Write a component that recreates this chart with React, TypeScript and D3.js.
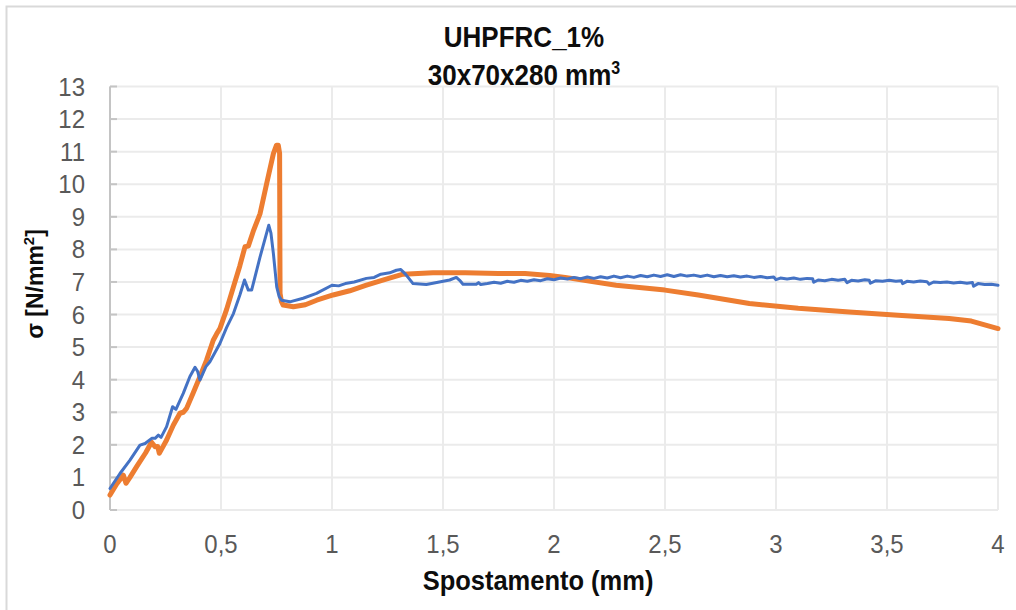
import React from "react";
import * as d3 from "d3";

const title1 = "UHPFRC_1%";
const title2 = "30x70x280 mm";
const xLabel = "Spostamento (mm)";
const yTicks = [0, 1, 2, 3, 4, 5, 6, 7, 8, 9, 10, 11, 12, 13];
const xTicks = [0, 0.5, 1, 1.5, 2, 2.5, 3, 3.5, 4];

const orangeX = [0, 0.03, 0.06, 0.072, 0.09, 0.12, 0.16, 0.187, 0.203, 0.215, 0.222, 0.235, 0.255, 0.285, 0.315, 0.33, 0.345, 0.375, 0.405, 0.435, 0.465, 0.48, 0.495, 0.525, 0.556, 0.585, 0.608, 0.623, 0.645, 0.676, 0.705, 0.736, 0.75, 0.758, 0.764, 0.765, 0.766, 0.772, 0.78, 0.826, 0.88, 0.931, 1.005, 1.08, 1.155, 1.24, 1.32, 1.455, 1.6, 1.75, 1.87, 1.98, 2.05, 2.28, 2.5, 2.65, 2.88, 3.1, 3.33, 3.55, 3.78, 3.88, 4.0];
const orangeY = [0.46, 0.8, 1.07, 0.82, 1.0, 1.33, 1.75, 2.08, 1.94, 1.95, 1.74, 1.9, 2.15, 2.6, 2.97, 3.0, 3.12, 3.6, 4.09, 4.6, 5.21, 5.4, 5.57, 6.15, 6.85, 7.5, 8.08, 8.1, 8.55, 9.1, 10.0, 10.94, 11.2, 11.2, 10.95, 8.5, 6.65, 6.4, 6.29, 6.24, 6.3, 6.44, 6.6, 6.73, 6.9, 7.08, 7.24, 7.28, 7.28, 7.26, 7.26, 7.2, 7.14, 6.9, 6.75, 6.6, 6.34, 6.19, 6.08, 5.98, 5.88, 5.8, 5.57];

const blueX = [0, 0.045, 0.09, 0.135, 0.158, 0.188, 0.203, 0.218, 0.23, 0.255, 0.282, 0.297, 0.33, 0.36, 0.383, 0.395, 0.405, 0.432, 0.45, 0.495, 0.525, 0.556, 0.585, 0.606, 0.623, 0.638, 0.676, 0.715, 0.725, 0.736, 0.751, 0.762, 0.773, 0.81, 0.87, 0.93, 1.0, 1.03, 1.06, 1.1, 1.155, 1.19, 1.22, 1.26, 1.29, 1.31, 1.33, 1.365, 1.425, 1.53, 1.56, 1.575, 1.59, 1.65, 1.66, 1.67,
  1.70, 1.73, 1.76, 1.79, 1.82, 1.85, 1.88, 1.91, 1.94, 1.97, 2.0, 2.03, 2.06, 2.09, 2.12, 2.15, 2.18, 2.21, 2.24, 2.27, 2.30, 2.33, 2.36, 2.39, 2.42, 2.45, 2.48, 2.51, 2.54, 2.57, 2.60, 2.63, 2.66, 2.69, 2.72, 2.75, 2.78, 2.81, 2.84, 2.87, 2.90, 2.93, 2.96, 2.99, 3.0, 3.02, 3.05, 3.08, 3.11, 3.14, 3.165, 3.17, 3.19, 3.22, 3.25, 3.28, 3.31, 3.32, 3.34, 3.37, 3.40, 3.42, 3.425, 3.45, 3.48, 3.51, 3.54, 3.565, 3.57, 3.59, 3.62, 3.65, 3.68, 3.69, 3.71, 3.74, 3.77, 3.80, 3.83, 3.86, 3.885, 3.89, 3.91, 3.94, 3.97, 4.0];
const blueY = [0.66, 1.12, 1.53, 1.99, 2.04, 2.2, 2.2, 2.3, 2.23, 2.56, 3.17, 3.09, 3.58, 4.1, 4.38, 4.25, 3.99, 4.4, 4.55, 5.11, 5.6, 6.03, 6.6, 7.06, 6.75, 6.75, 7.77, 8.74, 8.5, 7.87, 6.85, 6.55, 6.44, 6.39, 6.5, 6.65, 6.9, 6.88, 6.95, 7.0, 7.11, 7.14, 7.24, 7.28, 7.36, 7.38, 7.25, 6.95, 6.92, 7.06, 7.14, 7.05, 6.93, 6.93, 6.98, 6.92,
  6.95, 6.99, 6.96, 7.02, 6.99, 7.05, 7.02, 7.07, 7.04, 7.1, 7.07, 7.12, 7.09, 7.14, 7.1, 7.15, 7.11, 7.16, 7.12, 7.18, 7.13, 7.18, 7.14, 7.2, 7.16, 7.21, 7.17, 7.22, 7.17, 7.22, 7.18, 7.21, 7.17, 7.21, 7.16, 7.2, 7.16, 7.19, 7.15, 7.18, 7.14, 7.17, 7.13, 7.15, 7.07, 7.12, 7.09, 7.12, 7.08, 7.11, 7.1, 6.99, 7.06, 7.04, 7.08, 7.05, 7.08, 6.98, 7.05, 7.03, 7.07, 7.05, 6.96, 7.04, 7.02, 7.05, 7.02, 7.04, 6.95, 7.02, 7.0, 7.03, 7.01, 6.93, 7.0, 6.98, 7.0, 6.97, 6.99, 6.96, 6.98, 6.87, 6.95, 6.92, 6.93, 6.9];

const W = 1016;
const H = 610;
const left = 110;
const right = 998;
const top = 86.5;
const bottom = 510;

export default function App() {
  const x = d3.scaleLinear().domain([0, 4]).range([left, right]);
  const y = d3.scaleLinear().domain([0, 13]).range([bottom, top]);
  const line = d3
    .line<[number, number]>()
    .x((d) => x(d[0]))
    .y((d) => y(d[1]));
  const orange = orangeX.map((v, i) => [v, orangeY[i]] as [number, number]);
  const blue = blueX.map((v, i) => [v, blueY[i]] as [number, number]);
  const fmt = (v: number) => String(v).replace(".", ",");
  const tickFont = "'Liberation Sans Narrow', 'Liberation Sans', Arial, sans-serif";
  const boldFont = "'Liberation Sans', Arial, sans-serif";
  return (
    <svg
      width={W}
      height={H}
      style={{ position: "absolute", left: 0, top: 0, display: "block", background: "#fff" }}
    >
      <rect x={6.5} y={6.5} width={1020} height={620} fill="#fff" stroke="#d9d9d9" strokeWidth={2} />
      {yTicks.map((t) => (
        <line key={"gy" + t} x1={left} x2={right} y1={y(t)} y2={y(t)} stroke="#ebebeb" strokeWidth={2} />
      ))}
      {xTicks.map((t) => (
        <line key={"gx" + t} x1={x(t)} x2={x(t)} y1={top} y2={bottom} stroke="#ebebeb" strokeWidth={2} />
      ))}
      <line x1={left} x2={left} y1={top} y2={bottom} stroke="#c4c4c4" strokeWidth={2} />
      {yTicks.map((t) => (
        <line key={"ty" + t} x1={left} x2={left + 7} y1={y(t)} y2={y(t)} stroke="#c4c4c4" strokeWidth={2} />
      ))}
      {yTicks.map((t) => (
        <text
          key={"ly" + t}
          transform={`translate(85,${y(t) + 9}) scale(1,1.08)`}
          textAnchor="end"
          fontFamily={tickFont}
          fontSize={24}
          fill="#595959"
        >
          {t}
        </text>
      ))}
      {xTicks.map((t) => (
        <text
          key={"lx" + t}
          transform={`translate(${x(t)},552.5) scale(1,1.08)`}
          textAnchor="middle"
          fontFamily={tickFont}
          fontSize={24}
          fill="#595959"
        >
          {fmt(t)}
        </text>
      ))}
      <path d={line(orange) || ""} fill="none" stroke="#ED7D31" strokeWidth={5} strokeLinejoin="round" strokeLinecap="round" />
      <path d={line(blue) || ""} fill="none" stroke="#4472C4" strokeWidth={3} strokeLinejoin="round" strokeLinecap="round" />
      <text transform="translate(524,47) scale(1,1.1)" textAnchor="middle" fontFamily={boldFont} fontWeight="bold" fontSize={26} fill="#0d0d0d">
        {title1}
      </text>
      <text transform="translate(524,85) scale(1,1.1)" textAnchor="middle" fontFamily={boldFont} fontWeight="bold" fontSize={26} fill="#0d0d0d">
        {title2}
        <tspan fontSize={16} dy={-10}>3</tspan>
      </text>
      <text transform="translate(538,590) scale(1,1.08)" textAnchor="middle" fontFamily={boldFont} fontWeight="bold" fontSize={25.5} fill="#0d0d0d">
        {xLabel}
      </text>
      <text
        transform="translate(43,284) rotate(-90)"
        textAnchor="middle"
        fontFamily={boldFont}
        fontWeight="bold"
        fontSize={23}
        fill="#0d0d0d"
      >
        σ [N/mm
        <tspan fontSize={15} dy={-9}>2</tspan>
        <tspan dy={9}>]</tspan>
      </text>
    </svg>
  );
}
